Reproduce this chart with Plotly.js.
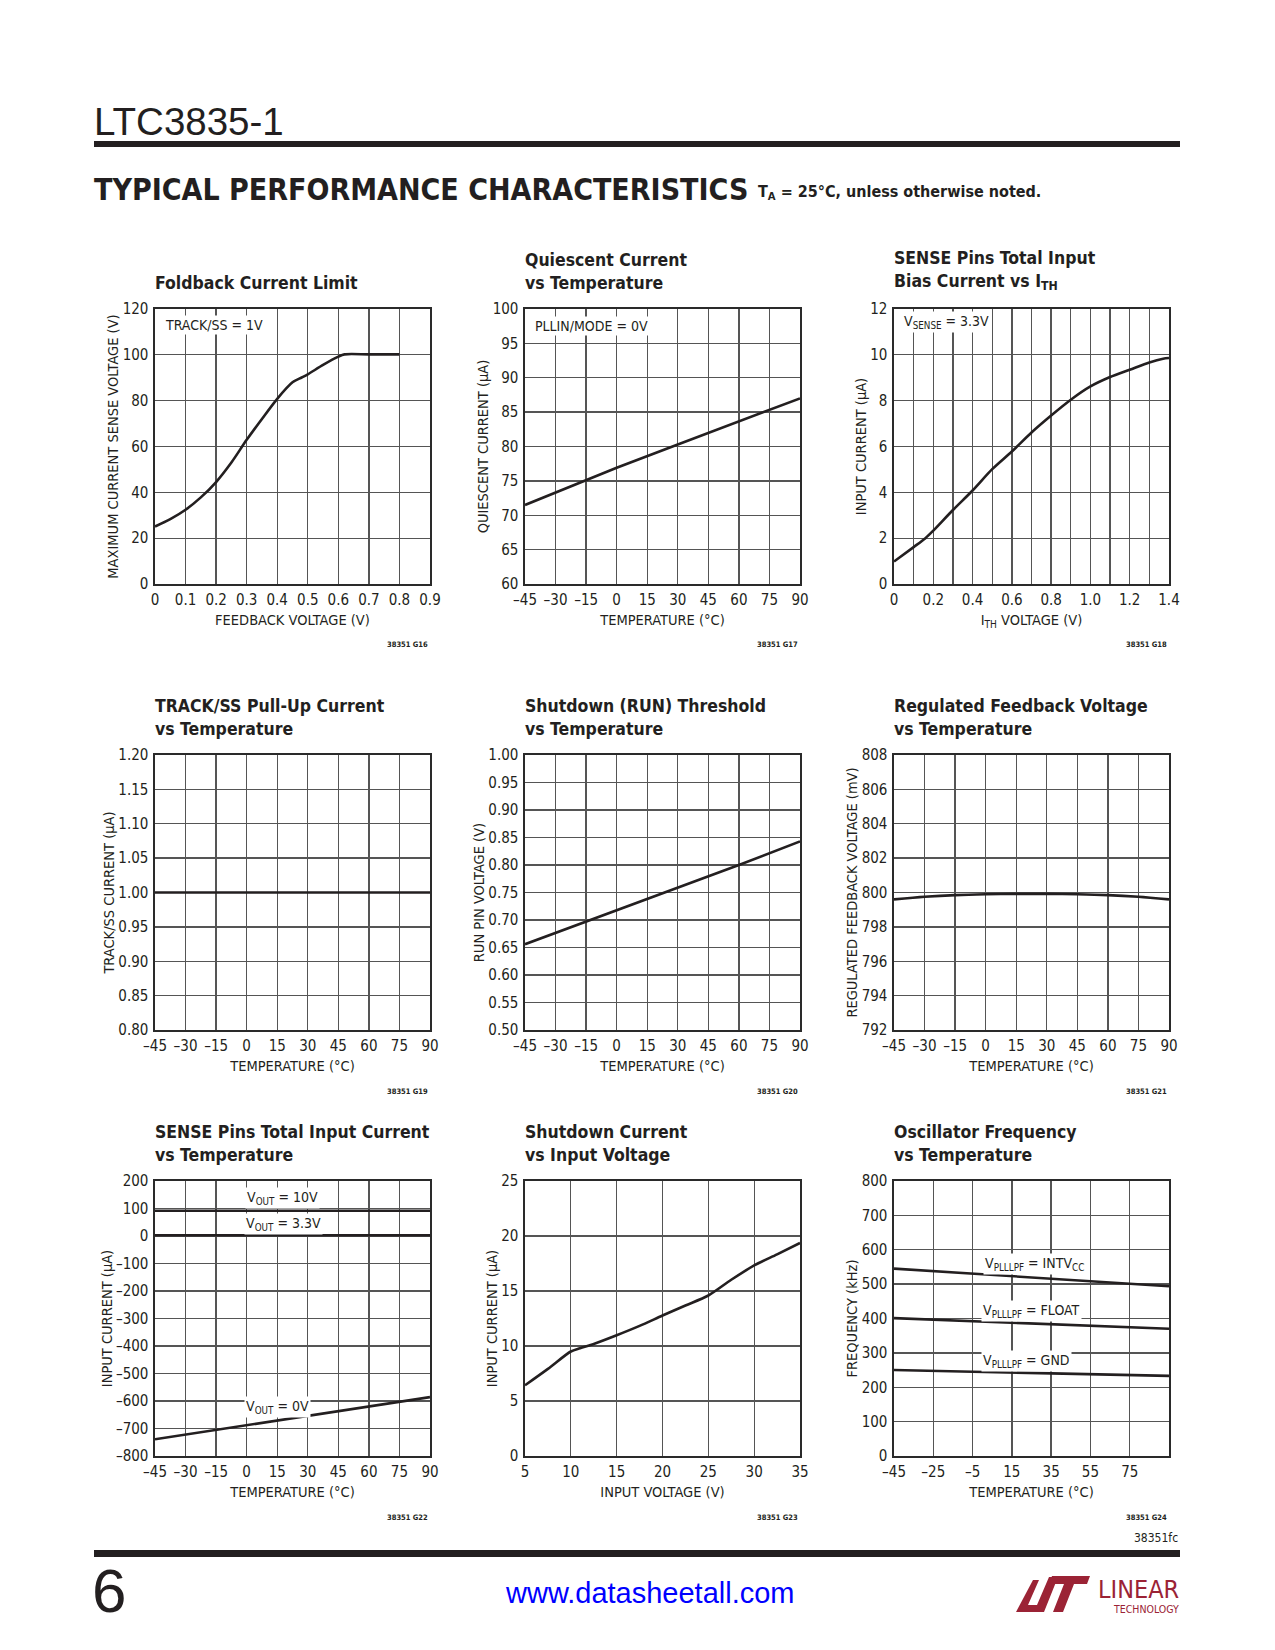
<!DOCTYPE html>
<html>
<head>
<meta charset="utf-8">
<script src="https://cdn.plot.ly/plotly-3.0.1.min.js"></script>
<style>
  body { margin: 0; background: #fff; }
  #page { width: 1275px; height: 1650px; }
</style>
</head>
<body>
<div id="page"></div>
<script>
// ---- chart data ----

// Foldback Current Limit
var fbVolt = [0, 0.05, 0.1, 0.15, 0.2, 0.25, 0.3, 0.35, 0.4, 0.45, 0.48, 0.5, 0.55, 0.6, 0.62, 0.7, 0.8];
var fbSense = [25.1, 28.3, 32.4, 37.8, 44.5, 53.0, 62.9, 72.0, 80.8, 88.0, 90.1, 91.5, 95.6, 99.2, 100.2, 100.2, 100.2];

// Quiescent Current vs Temperature
var qTemp = [-45, 0, 30, 60, 90];
var qCurr = [71.5, 76.9, 80.3, 83.7, 87.0];

// SENSE Pins Total Input Bias Current vs ITH
var biasIth = [0, 0.1, 0.16, 0.2, 0.3, 0.4, 0.5, 0.6, 0.7, 0.8, 0.9, 1.0, 1.1, 1.2, 1.3, 1.37, 1.4];
var biasCurr = [0.98, 1.61, 2.0, 2.33, 3.23, 4.08, 5.01, 5.78, 6.61, 7.35, 8.04, 8.62, 9.03, 9.35, 9.67, 9.83, 9.86];

// TRACK/SS Pull-Up Current vs Temperature
var trackTemp = [-45, 90];
var trackCurr = [1.0, 1.0];

// Shutdown (RUN) Threshold vs Temperature
var runTemp = [-45, 0, 60, 90];
var runVolt = [0.656, 0.718, 0.800, 0.843];

// Regulated Feedback Voltage vs Temperature
var regTemp = [-45, -30, -15, 0, 15, 30, 45, 60, 75, 90];
var regMv = [799.6, 799.75, 799.85, 799.9, 799.92, 799.92, 799.9, 799.85, 799.75, 799.6];

// SENSE Pins Total Input Current vs Temperature
var senseTemp = [-45, 90];
var sense10V = [92, 92];
var sense33V = [3, 3];
var sense0V = [-739, -586];

// Shutdown Current vs Input Voltage
var sdVin = [5, 7.5, 10, 11, 12.5, 15, 17.5, 20, 22.5, 25, 27.5, 30, 32.5, 35];
var sdCurr = [6.43, 7.92, 9.5, 9.8, 10.19, 10.98, 11.83, 12.77, 13.68, 14.59, 16.02, 17.32, 18.33, 19.36];

// Oscillator Frequency vs Temperature
var oscTemp = [-45, 95];
var oscIntvcc = [545, 494];
var oscFloat = [401, 370];
var oscGnd = [250, 233];

// tick values / labels
var tempTicks = [-45, -30, -15, 0, 15, 30, 45, 60, 75, 90];
var tempLabels = ['–45', '–30', '–15', '0', '15', '30', '45', '60', '75', '90'];
var oscTicks = [-45, -25, -5, 15, 35, 55, 75];
var oscLabels = ['–45', '–25', '–5', '15', '35', '55', '75'];
var fbTicks = [0, 0.1, 0.2, 0.3, 0.4, 0.5, 0.6, 0.7, 0.8, 0.9];
var fbLabels = ['0', '0.1', '0.2', '0.3', '0.4', '0.5', '0.6', '0.7', '0.8', '0.9'];
var ithTicks = [0, 0.2, 0.4, 0.6, 0.8, 1.0, 1.2, 1.4];
var ithLabels = ['0', '0.2', '0.4', '0.6', '0.8', '1.0', '1.2', '1.4'];
var ithMinor = [0.1, 0.3, 0.5, 0.7, 0.9, 1.1, 1.3];
var vinTicks = [5, 10, 15, 20, 25, 30, 35];
var vinLabels = ['5', '10', '15', '20', '25', '30', '35'];

var fbYTicks = [0, 20, 40, 60, 80, 100, 120];
var qYTicks = [60, 65, 70, 75, 80, 85, 90, 95, 100];
var biasYTicks = [0, 2, 4, 6, 8, 10, 12];
var trackYTicks = [0.80, 0.85, 0.90, 0.95, 1.00, 1.05, 1.10, 1.15, 1.20];
var trackYLabels = ['0.80', '0.85', '0.90', '0.95', '1.00', '1.05', '1.10', '1.15', '1.20'];
var runYTicks = [0.50, 0.55, 0.60, 0.65, 0.70, 0.75, 0.80, 0.85, 0.90, 0.95, 1.00];
var runYLabels = ['0.50', '0.55', '0.60', '0.65', '0.70', '0.75', '0.80', '0.85', '0.90', '0.95', '1.00'];
var regYTicks = [792, 794, 796, 798, 800, 802, 804, 806, 808];
var senseYTicks = [-800, -700, -600, -500, -400, -300, -200, -100, 0, 100, 200];
var senseYLabels = ['–800', '–700', '–600', '–500', '–400', '–300', '–200', '–100', '0', '100', '200'];
var sdYTicks = [0, 5, 10, 15, 20, 25];
var oscYTicks = [0, 100, 200, 300, 400, 500, 600, 700, 800];

// ---- page layout ----
var W = 1275, H = 1650;
var INK = '#231f20';
var LOGO = '#9b2335';
var NARROW = '"Liberation Sans Narrow", "Arial Narrow", "DejaVu Sans Condensed", sans-serif';
var SANS = '"Liberation Sans", Arial, sans-serif';
var px = function(v) { return v / W; };
var py = function(v) { return 1 - v / H; };

var cols = [[155, 430], [525, 800], [894, 1169]];
var rows = [[309, 584], [755, 1030], [1181, 1456]];

var charts = [
  { title: '<b>Foldback Current Limit</b>', id: '38351 G16',
    xr: [0, 0.9], xt: fbTicks, xl: fbLabels, yr: [0, 120], yt: fbYTicks, yl: null,
    xtitle: 'FEEDBACK VOLTAGE (V)', ytitle: 'MAXIMUM CURRENT SENSE VOLTAGE (V)',
    series: [[fbVolt, fbSense, 'spline']],
    notes: [['TRACK/SS = 1V', 163, 325, 'left']] },
  { title: '<b>Quiescent Current<br>vs Temperature</b>', id: '38351 G17',
    xr: [-45, 90], xt: tempTicks, xl: tempLabels, yr: [60, 100], yt: qYTicks, yl: null,
    xtitle: 'TEMPERATURE (°C)', ytitle: 'QUIESCENT CURRENT (µA)',
    series: [[qTemp, qCurr, 'linear']],
    notes: [['PLLIN/MODE = 0V', 533, 326, 'left']] },
  { title: '<b>SENSE Pins Total Input<br>Bias Current vs I<sub>TH</sub></b>', id: '38351 G18',
    xr: [0, 1.4], xt: ithTicks, xl: ithLabels, minor: ithMinor, yr: [0, 12], yt: biasYTicks, yl: null,
    xtitle: 'I<sub>TH</sub> VOLTAGE (V)', ytitle: 'INPUT CURRENT (µA)',
    series: [[biasIth, biasCurr, 'spline']],
    notes: [['V<sub>SENSE</sub> = 3.3V', 902, 322, 'left']] },
  { title: '<b>TRACK/SS Pull-Up Current<br>vs Temperature</b>', id: '38351 G19',
    xr: [-45, 90], xt: tempTicks, xl: tempLabels, yr: [0.8, 1.2], yt: trackYTicks, yl: trackYLabels,
    xtitle: 'TEMPERATURE (°C)', ytitle: 'TRACK/SS CURRENT (µA)',
    series: [[trackTemp, trackCurr, 'linear']], notes: [] },
  { title: '<b>Shutdown (RUN) Threshold<br>vs Temperature</b>', id: '38351 G20',
    xr: [-45, 90], xt: tempTicks, xl: tempLabels, yr: [0.5, 1.0], yt: runYTicks, yl: runYLabels,
    xtitle: 'TEMPERATURE (°C)', ytitle: 'RUN PIN VOLTAGE (V)',
    series: [[runTemp, runVolt, 'linear']], notes: [] },
  { title: '<b>Regulated Feedback Voltage<br>vs Temperature</b>', id: '38351 G21',
    xr: [-45, 90], xt: tempTicks, xl: tempLabels, yr: [792, 808], yt: regYTicks, yl: null,
    xtitle: 'TEMPERATURE (°C)', ytitle: 'REGULATED FEEDBACK VOLTAGE (mV)',
    series: [[regTemp, regMv, 'spline']], notes: [] },
  { title: '<b>SENSE Pins Total Input Current<br>vs Temperature</b>', id: '38351 G22',
    xr: [-45, 90], xt: tempTicks, xl: tempLabels, yr: [-800, 200], yt: senseYTicks, yl: senseYLabels,
    xtitle: 'TEMPERATURE (°C)', ytitle: 'INPUT CURRENT (µA)',
    series: [[senseTemp, sense10V, 'linear'], [senseTemp, sense33V, 'linear'], [senseTemp, sense0V, 'linear']],
    notes: [['V<sub>OUT</sub> = 10V', 282, 1198, 'center'], ['V<sub>OUT</sub> = 3.3V', 283, 1224, 'center'],
            ['V<sub>OUT</sub> = 0V', 277, 1407, 'center']] },
  { title: '<b>Shutdown Current<br>vs Input Voltage</b>', id: '38351 G23',
    xr: [5, 35], xt: vinTicks, xl: vinLabels, yr: [0, 25], yt: sdYTicks, yl: null,
    xtitle: 'INPUT VOLTAGE (V)', ytitle: 'INPUT CURRENT (µA)',
    series: [[sdVin, sdCurr, 'spline']], notes: [] },
  { title: '<b>Oscillator Frequency<br>vs Temperature</b>', id: '38351 G24',
    xr: [-45, 95], xt: oscTicks, xl: oscLabels, yr: [0, 800], yt: oscYTicks, yl: null,
    xtitle: 'TEMPERATURE (°C)', ytitle: 'FREQUENCY (kHz)',
    series: [[oscTemp, oscIntvcc, 'linear'], [oscTemp, oscFloat, 'linear'], [oscTemp, oscGnd, 'linear']],
    notes: [['V<sub>PLLLPF</sub> = INTV<sub>CC</sub>', 1034, 1264, 'center'],
            ['V<sub>PLLLPF</sub> = FLOAT', 1031, 1311, 'center'],
            ['V<sub>PLLLPF</sub> = GND', 1026, 1361, 'center']] }
];

var layout = {
  width: W, height: H,
  margin: { l: 0, r: 0, t: 0, b: 0 },
  paper_bgcolor: 'white', plot_bgcolor: 'white',
  showlegend: false,
  font: { family: NARROW, color: INK },
  annotations: [], shapes: []
};
var traces = [];

var GRID = '#555555';

function axisBase() {
  return {
    showline: true, mirror: true, linecolor: '#2a2a2a', linewidth: 1.6,
    showgrid: true, gridcolor: GRID, gridwidth: 1.3,
    zeroline: false, ticks: '', fixedrange: true,
    tickmode: 'array',
    tickfont: { family: NARROW, size: 15, color: INK }
  };
}

charts.forEach(function(c, i) {
  var n = i === 0 ? '' : String(i + 1);
  var col = cols[i % 3], row = rows[Math.floor(i / 3)];

  var xa = axisBase();
  xa.domain = [px(col[0]), px(col[1])];
  xa.anchor = 'y' + n;
  xa.range = c.xr;
  xa.tickvals = c.xt;
  xa.ticktext = c.xl;
  xa.ticklabelstandoff = 1;
  xa.title = { text: c.xtitle, font: { family: NARROW, size: 14.5, color: INK }, standoff: 7 };
  if (c.minor) {
    xa.minor = { tickmode: 'array', tickvals: c.minor, showgrid: true, gridcolor: GRID, gridwidth: 1.3, ticks: '' };
  }
  layout['xaxis' + n] = xa;

  var ya = axisBase();
  ya.domain = [py(row[1]), py(row[0])];
  ya.anchor = 'x' + n;
  ya.range = c.yr;
  ya.tickvals = c.yt;
  ya.ticktext = c.yl || c.yt.map(String);
  ya.ticklabelstandoff = 2;
  ya.title = { text: c.ytitle, font: { family: NARROW, size: 14.5, color: INK }, standoff: 0 };
  layout['yaxis' + n] = ya;

  c.series.forEach(function(s) {
    traces.push({
      x: s[0], y: s[1], type: 'scatter', mode: 'lines',
      xaxis: 'x' + n, yaxis: 'y' + n, hoverinfo: 'skip',
      line: { color: INK, width: 2.6, shape: s[2], smoothing: 0.8 }
    });
  });

  // chart title above the plot
  layout.annotations.push({
    xref: 'paper', yref: 'paper', x: px(col[0] - 2), y: py(row[0] - 14),
    xanchor: 'left', yanchor: 'bottom', align: 'left', showarrow: false,
    text: c.title, font: { family: NARROW, size: 17.5, color: INK }
  });

  // figure number under the plot
  layout.annotations.push({
    xref: 'paper', yref: 'paper', x: px(col[1]), y: py(row[1] + 61),
    xanchor: 'right', yanchor: 'middle', showarrow: false,
    text: '<b>' + c.id + '</b>', font: { family: NARROW, size: 7.5, color: INK }
  });

  c.notes.forEach(function(t) {
    layout.annotations.push({
      xref: 'paper', yref: 'paper', x: px(t[1]), y: py(t[2]),
      xanchor: t[3], yanchor: 'middle', showarrow: false,
      text: t[0], bgcolor: 'white', borderpad: 1,
      font: { family: NARROW, size: 14, color: INK }
    });
  });
});

// header / footer text
layout.annotations.push(
  { xref: 'paper', yref: 'paper', x: px(92), y: py(121), xanchor: 'left', yanchor: 'middle', showarrow: false,
    text: 'LTC3835-1', font: { family: SANS, size: 38.5, color: INK } },
  { xref: 'paper', yref: 'paper', x: px(92), y: py(190), xanchor: 'left', yanchor: 'middle', showarrow: false,
    text: '<b>TYPICAL PERFORMANCE CHARACTERISTICS</b>', font: { family: NARROW, size: 30, color: INK } },
  { xref: 'paper', yref: 'paper', x: px(756), y: py(193), xanchor: 'left', yanchor: 'middle', showarrow: false,
    text: '<b>T<sub>A</sub> = 25°C, unless otherwise noted.</b>', font: { family: NARROW, size: 16, color: INK } },
  { xref: 'paper', yref: 'paper', x: px(1180), y: py(1538), xanchor: 'right', yanchor: 'middle', showarrow: false,
    text: '38351fc', font: { family: NARROW, size: 12, color: INK } },
  { xref: 'paper', yref: 'paper', x: px(90), y: py(1590), xanchor: 'left', yanchor: 'middle', showarrow: false,
    text: '6', font: { family: SANS, size: 62, color: INK } },
  { xref: 'paper', yref: 'paper', x: px(650), y: py(1593), xanchor: 'center', yanchor: 'middle', showarrow: false,
    text: 'www.datasheetall.com', font: { family: SANS, size: 29, color: '#0000ff' } },
  { xref: 'paper', yref: 'paper', x: px(1181), y: py(1589), xanchor: 'right', yanchor: 'middle', showarrow: false,
    text: 'LINEAR', font: { family: NARROW, size: 25, color: LOGO } },
  { xref: 'paper', yref: 'paper', x: px(1181), y: py(1609), xanchor: 'right', yanchor: 'middle', showarrow: false,
    text: 'TECHNOLOGY', font: { family: NARROW, size: 10.5, color: LOGO } }
);

function poly(pts) {
  return 'M' + pts.map(function(p) { return px(p[0]) + ',' + py(p[1]); }).join('L') + 'Z';
}

// page rules
layout.shapes.push(
  { type: 'rect', xref: 'paper', yref: 'paper', x0: px(94), x1: px(1180), y0: py(147), y1: py(141),
    fillcolor: INK, line: { width: 0 } },
  { type: 'rect', xref: 'paper', yref: 'paper', x0: px(94), x1: px(1180), y0: py(1557), y1: py(1550),
    fillcolor: INK, line: { width: 0 } },
  // LT mark of the logo
  { type: 'path', xref: 'paper', yref: 'paper', fillcolor: LOGO, line: { width: 0 },
    path: poly([[1016, 1612], [1044, 1612], [1058, 1577], [1049, 1577], [1037, 1605], [1028, 1605], [1039, 1580], [1033, 1580]]) },
  { type: 'path', xref: 'paper', yref: 'paper', fillcolor: LOGO, line: { width: 0 },
    path: poly([[1052, 1576], [1090, 1576], [1087, 1584], [1074, 1584], [1063, 1612], [1053, 1612], [1064, 1584], [1049, 1584]]) }
);

Plotly.newPlot('page', traces, layout, { staticPlot: true });
</script>
</body>
</html>
